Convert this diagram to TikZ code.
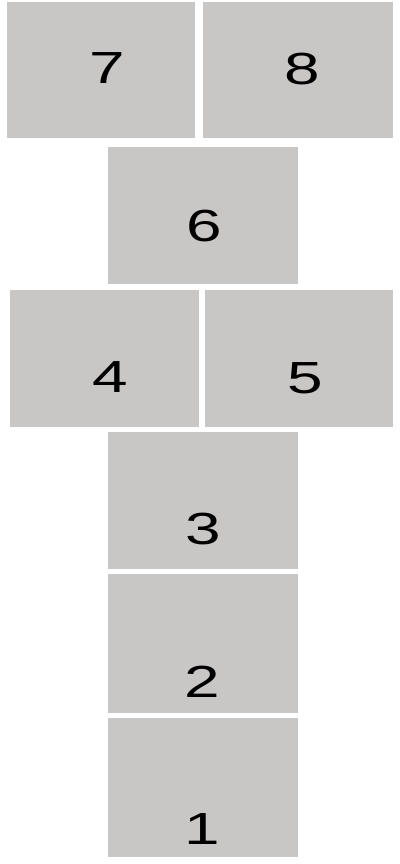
\documentclass[tikz,border=0pt]{standalone}
\usepackage{graphicx}
\usepackage{fontspec}
\setmainfont{Liberation Sans}
\definecolor{boxgray}{RGB}{201,198,198}
\newcommand{\widedigit}[1]{\scalebox{1.42}[1]{#1}}
\begin{document}
\begin{tikzpicture}[x=1pt,y=-1pt,
  box/.style={fill=boxgray,draw=none,inner sep=0pt,minimum width=#1},
  box/.default=190pt,
  num/.style={inner sep=0pt,font=\fontsize{45}{45}\selectfont,text=black}]
\useasboundingbox (0,0) rectangle (399,864);
\fill[white] (0,0) rectangle (399,864);
% boxes
\node[box=188pt,minimum height=136pt] (b7) at (101,70) {};
\node[box=190pt,minimum height=136pt] (b8) at (298,70) {};
\node[box=190pt,minimum height=137pt] (b6) at (203,215.5) {};
\node[box=189pt,minimum height=137pt] (b4) at (104.5,358.5) {};
\node[box=188pt,minimum height=137pt] (b5) at (299,358.5) {};
\node[box=190pt,minimum height=137pt] (b3) at (203,500.5) {};
\node[box=190pt,minimum height=139pt] (b2) at (203,643.5) {};
\node[box=190pt,minimum height=139pt] (b1) at (203,787.5) {};
% labels
\node[num] (t7) at (107,68) {\widedigit{7}};
\node[num] (t8) at (302,69) {\widedigit{8}};
\node[num] (t6) at (204,226) {\widedigit{6}};
\node[num] (t4) at (110,377) {\widedigit{4}};
\node[num] (t5) at (305,378) {\widedigit{5}};
\node[num] (t3) at (203,529) {\widedigit{3}};
\node[num] (t2) at (202,682) {\widedigit{2}};
\node[num] (t1) at (202,829) {\widedigit{1}};
\end{tikzpicture}
\end{document}
